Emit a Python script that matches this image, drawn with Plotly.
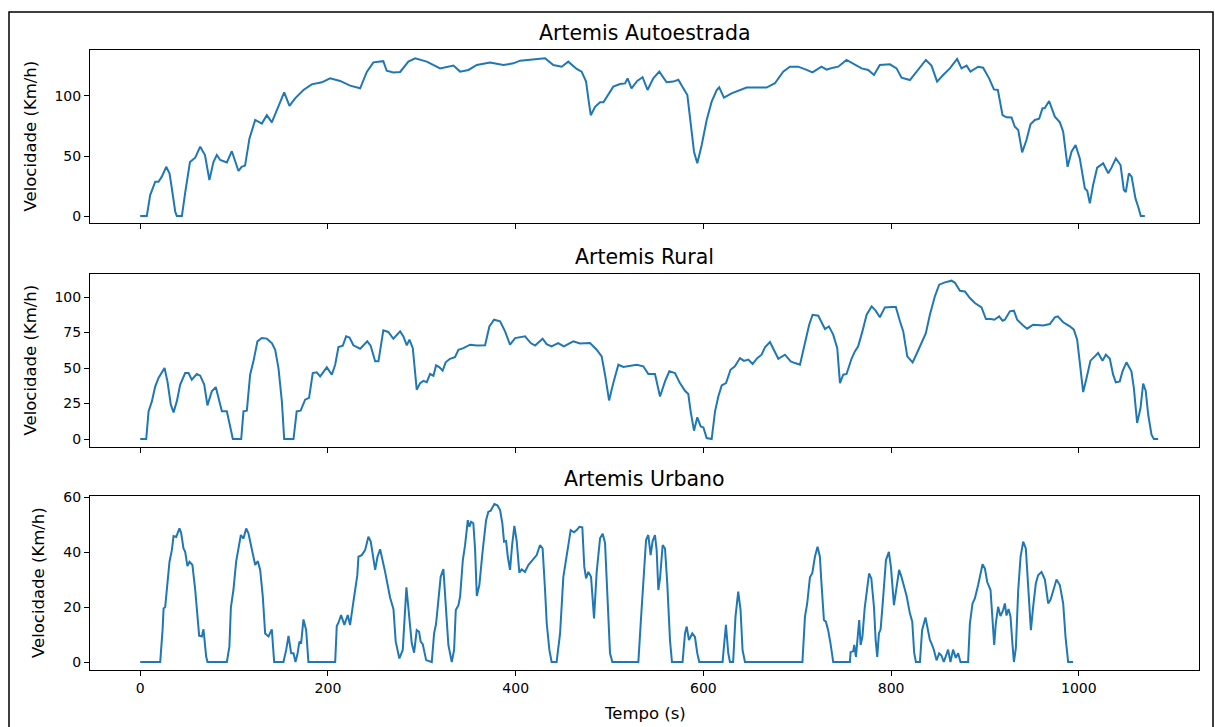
import plotly.graph_objects as go
from plotly.subplots import make_subplots

# ---------------- data ----------------
titles = ["Artemis Autoestrada", "Artemis Rural", "Artemis Urbano"]

tempo_autoestrada = [0, 7, 10.6, 16, 19.5, 23, 27.7, 31.2, 33.7, 37.3, 39, 44.4, 48, 53, 58.6, 63.9, 69, 73.7, 78, 81.6,
    85.2, 92.3, 97.6, 104.7, 108, 111.7, 116.4, 122.5, 129.6, 134.9, 140.2, 147.3, 153.4, 159, 165, 173.9, 182.7,
    193.5, 202.3, 213, 223.6, 234.3, 241.4, 248.4, 259, 262.6, 269.7, 276.9, 285.7, 292.9, 305.3, 319.5, 333.7,
    340.8, 349.7, 358.6, 372.7, 386.9, 397.6, 404.7, 422.4, 431.3, 440.1, 449, 456, 465, 470.3, 475, 477.4, 480,
    484.6, 489.9, 493.5, 498.7, 504, 511.2, 516.5, 519.2, 523.4, 529.5, 535.2, 540.5, 546.6, 553, 560.8, 567.9,
    573.3, 578.6, 582.9, 587.5, 590, 593.5, 598.2, 603.5, 608.8, 614.2, 616.8, 621.9, 630, 646, 667.3, 676.2, 685,
    692.2, 701, 710, 716.2, 725.8, 731.2, 738.3, 743.6, 752.5, 761.4, 768.5, 775.6, 781.7, 788, 798.7, 805.8,
    811.1, 820, 828.8, 837, 843, 849, 855.4, 862.6, 870.3, 875, 880.4, 884.5, 892.7, 898, 904.4, 909.5, 913.7,
    918.7, 922.9, 928.3, 931.8, 935.4, 939.6, 944.2, 948.5, 953.1, 957.7, 961.2, 963.6, 968.3, 974.4, 979.8,
    983.3, 988, 992.2, 996.5, 1001, 1006.4, 1008.9, 1011.7, 1015.2, 1019.5, 1025.9, 1031.3, 1034.8, 1039.4,
    1044.4, 1047.9, 1050, 1053.3, 1056.2, 1060.3, 1063.2, 1066, 1070.3]
velocidade_autoestrada = [0, 0, 17.5, 28.6, 28.6, 32.8, 41, 35.5, 23, 3.6, 0, 0, 20, 45, 48.6, 57.8, 50.8, 30, 45, 50.8,
    46.7, 44.7, 54, 37.5, 41, 42, 64.7, 80, 77, 84, 78, 91, 103, 91.7, 98, 105, 109.7,
    111.4, 114.7, 112.5, 108.6, 106.4, 120, 128, 129, 121, 119.5, 120, 128.6, 131.4, 128.6, 123, 125.3,
    120.3, 121.7, 125.8, 127.8, 125.8, 127.2, 129.4, 130.5, 131.4, 125.8, 124.4, 128.6, 122.5, 120.3, 112, 98, 84,
    91, 94.7, 94.7, 101.4, 107.8, 110, 110.5, 114.7, 106.4, 112.5, 115.6, 105, 114.7, 120.3, 111.4, 112,
    113.5, 106.4, 100.8, 70.3, 53.6, 43.9, 59.2, 80, 95.3, 105, 107.2, 98.6, 102.2, 107, 107, 110.6, 120.3,
    124.4, 124.4, 121.7, 119.7, 124.4, 122, 123.6, 124.4, 130, 125.8, 123, 121.7, 117.5, 125.8, 126.4, 123,
    115.3, 113.3, 121.7, 130, 125.3, 112, 117.5, 123, 130.8, 123, 125.3, 120.3, 124.4, 123.6, 114.7, 105.5, 105,
    84, 82.2, 82, 74.4, 71.7, 53, 63.3, 76.4, 80, 81, 89.7, 89.7, 95.8, 82.8, 78,
    70.3, 41, 53.6, 59.2, 48, 23, 21, 10.6, 25.8, 40.3, 43.9, 35.6, 40.3, 48,
    42.5, 21.7, 20, 35.6, 32.8, 14.7, 7.8, 0, 0]

tempo_rural = [0, 6.4, 8.9, 12.4, 16, 19.5, 25.9, 29, 32.6, 35.5, 39, 42.6, 47.9, 51.5, 54.9, 60.3, 63.9, 68.2, 71.6,
    76.3, 80.5, 83.3, 87, 92.3, 95.8, 98.7, 107.6, 110, 113.6, 117.1, 120.6, 124.9, 129.5, 134.9, 140.2, 143.8,
    147.3, 150.9, 153.4, 163.3, 166.7, 170.9, 175.7, 179.9, 183.8, 188, 191.7, 198.8, 204.1, 207.7, 211.2, 215.8,
    219.4, 223, 227.1, 234.3, 241.9, 245.5, 250.3, 253.8, 259, 264.3, 269.7, 276.9, 280.4, 284, 286.8, 290.4,
    294.6, 298.2, 301.7, 305.3, 308.8, 312.4, 315.2, 318.8, 322.2, 325.4, 330, 335.3, 339, 344.3, 351.4, 358.6,
    367.4, 372, 377, 383.4, 388.7, 394, 399.4, 410, 416, 420.7, 428.7, 433, 438.2, 445.3, 451.3, 461.4, 468.5,
    479.2, 486.3, 491.6, 495.2, 499.5, 504, 509.4, 514.7, 528.9, 536, 541.3, 548.4, 553.8, 559.1, 563.7, 569.7,
    575, 580.4, 583.9, 586.4, 590, 593.5, 597.1, 600, 603.5, 608.8, 612.4, 615.9, 619.5, 624.1, 628.9, 633.5,
    639, 643.2, 647.8, 652.4, 657.3, 662, 665.6, 670.9, 675.2, 679.8, 686.9, 693, 697.6, 702.9, 708.2, 712.7,
    716.3, 722.4, 729.5, 733.7, 738.3, 742.6, 745.5, 749, 752.5, 757.8, 761.4, 764.9, 769.4, 773.9, 779.2, 783.5,
    788, 793.3, 800.4, 805, 809.4, 812.9, 817.2, 822.9, 827.1, 832.4, 837, 841.3, 846.6, 851.2, 857.3, 864.4,
    868, 873.3, 878.6, 883.9, 889.2, 896.3, 901, 906.4, 909.9, 915.1, 918.7, 921.2, 926.5, 930.8, 934.3, 940.6,
    944.9, 951.3, 956.7, 962, 969.1, 974.4, 977.6, 983.3, 990.4, 994.7, 998.2, 1001, 1004.6, 1008.2, 1012.4,
    1017, 1020.5, 1025.2, 1028.8, 1033, 1036.5, 1039.4, 1043.6, 1046.5, 1050.7, 1056, 1058.6, 1062.1, 1065.7,
    1068.5, 1071.2, 1073.9, 1077.4, 1079.9, 1084.5]
velocidade_rural = [0, 0, 19.5, 26.5, 37.1, 43, 50, 40.6, 24.2, 18.8, 26.5, 38.3, 46.5, 46.5, 41.8, 45.8, 44.6, 38.3, 23.7,
    33.6, 36.6, 30, 19.5, 19.5, 10, 0, 0, 19.5, 20, 45.3, 54.7, 68.8, 71.1, 70.7, 67.6, 62.9,
    50, 26.5, 0, 0, 19.5, 20, 27.7, 29, 46.5, 47, 44.1, 50.5, 45.3, 52.3, 64.8, 65.8,
    72.3, 71.5, 66, 63.6, 68.8, 65.7, 54.7, 54.7, 76.5, 75.4, 70.6, 75.8, 72.3, 66, 70, 64,
    34.7, 39.4, 41, 40, 45.8, 44.6, 51.9, 50.5, 48.1, 54, 56.5, 57.7, 62.9, 64, 66.4, 65.8,
    66, 79.3, 84, 82.9, 75.8, 66.4, 71.1, 72.3, 67.6, 65.8, 70.6, 66.8, 65.3, 67.6, 65.3, 68.8, 67.3,
    67.6, 62.9, 58.2, 45.3, 27.2, 39.4, 52.3, 50.7, 52.3, 51.2, 45.8, 45.8, 30, 40.6, 47.7, 46.5,
    39.4, 34, 31.7, 19.5, 5.9, 15.3, 8.9, 8.2, 0.7, 0, 19.5, 30, 37.8, 39.4, 48.8, 51.2,
    57, 55, 55.9, 52.8, 57, 59.4, 64.6, 68.3, 62.9, 56.5, 59.4, 54.7, 53.5, 52.3, 67.6, 80.5,
    87.5, 86.8, 77.5, 79.3, 73.5, 64, 39.4, 45.3, 45.8, 56.5, 61.7, 65.3, 75.8, 87.5, 93.4, 90.4,
    85.7, 92.7, 93, 93, 82.9, 75.8, 58.2, 54, 59.9, 67.6, 74.6, 87.5, 100.5, 108.7, 110.3, 111.5,
    110, 104.4, 103.9, 99.3, 95.8, 92.7, 84.5, 84.5, 84, 86.4, 83.3, 84, 89.9, 90.4, 84, 80,
    77.7, 80.5, 80, 80, 81, 85.7, 86.4, 82.2, 79.4, 77, 70, 52.3, 33.1, 43, 55.2,
    58.2, 60.6, 55.2, 59.4, 56.5, 45.3, 39.9, 40.6, 47.7, 54, 47.7, 35.9, 11.3, 21.8,
    39, 34, 17.1, 3, 0, 0]

tempo_urbano = [0, 21.3, 23.8, 24.9, 26.6, 28.4, 31.2, 33.7, 35.5, 38.3, 39.8, 41.8, 43.6, 46.1, 47.9, 50.3, 52.5,
    55.6, 58.6, 61, 62.8, 65.6, 67.4, 70.3, 71.7, 92.3, 95, 96.6, 99.3, 102.2, 104.7, 107.2, 110, 112.9, 115.3,
    118.8, 122.5, 125.3, 127.8, 130.6, 133.1, 136.7, 140.2, 142.7, 152.6, 155.5, 158, 160.8, 163.3, 165.4, 167.5,
    169.6, 171.4, 173.9, 176.8, 179.2, 207.7, 209.4, 211.2, 214, 217.5, 221.1, 223.6, 226.1, 228.9, 231.3, 232.5,
    236, 239.6, 243.1, 245.6, 250.3, 252.8, 255.6, 260.9, 266.2, 269.8, 272.2, 276.1, 279.7, 283.6, 286.8, 289.3,
    291.8, 294.6, 297.1, 298.8, 301, 304.6, 310.6, 313.1, 315.2, 316.9, 320.1, 323, 325.4, 328.3, 331.9, 334.4,
    336.2, 339, 340.8, 343.7, 346.1, 349, 350.7, 352.5, 354.9, 356.8, 358.6, 361.3, 364.9, 368.5, 370.9, 373.3,
    377.3, 380.5, 383.4, 385.8, 387.6, 389.8, 391.6, 394, 396.2, 398.6, 401.1, 403.9, 406.4, 409.9, 413.5, 418.1,
    422.4, 425.9, 428.7, 431.3, 433.1, 435.9, 438.3, 443.6, 447.3, 450.8, 454.3, 458.6, 462.2, 465, 467.9, 471,
    473.1, 475, 477.4, 480.3, 483.5, 486.3, 489.9, 492.7, 495.2, 498, 500.5, 503, 530.7, 533.2, 536, 538.9,
    541.3, 543.8, 545.9, 548.4, 550.2, 552, 553.8, 556.6, 559.1, 561.5, 564.4, 566.5, 577.8, 580.4, 582.2, 584.6,
    588.2, 591, 593.5, 595.6, 620.4, 622.2, 624, 626.5, 628.3, 631.7, 634.2, 637.1, 639.6, 641.7, 644.3, 705.5,
    708.2, 710.6, 713.5, 716, 718.8, 721.6, 724.1, 725.8, 728.4, 730.5, 732.9, 735.4, 738.3, 756.1, 756.8, 759.6,
    760.7, 762.5, 764.3, 766, 767.5, 769.4, 771.8, 774.3, 776.5, 778.9, 781.7, 783.5, 785.2, 787, 788.8, 791.3,
    794.5, 797.6, 799.8, 803, 805.8, 808.5, 811, 813.5, 816.5, 820, 822.5, 824.6, 826.4, 830.7, 833, 836.6, 839.5,
    841.3, 843.1, 845.6, 848.4, 851.2, 853.6, 856.1, 860.7, 863.2, 866, 868.9, 871.4, 873.9, 882, 883.9, 886.7,
    889.2, 892.7, 897.4, 899.9, 902.4, 905.9, 908, 909.8, 911.5, 914, 916.5, 919.3, 921.2, 922.9, 925.1, 927.2,
    929.2, 930.8, 932.9, 935.4, 937.9, 940.7, 943.5, 946, 948.9, 951.3, 954.2, 956.6, 960.2, 963.8, 967.3, 969.8,
    972.7, 976.2, 979.8, 983.3, 985.8, 988.6, 993.9]
velocidade_urbano = [0, 0, 11.6, 19.5, 20, 27.4, 36.5, 40.7, 45.8, 45.5, 47, 48.6, 47, 41.3, 40.1, 34.9, 36.5,
    35.3, 26.2, 17.1, 9.6, 9.3, 11.9, 1.9, 0, 0, 5.6, 19.9, 26.2, 36.5, 41.3, 46.2, 44.9, 48.6, 46.8,
    41, 35.3, 36.7, 33.5, 23.8, 10.4, 9.3, 11.9, 0, 0, 4.4, 9.5, 3.2, 3.2, 0, 2.8,
    7.4, 6.7, 15.5, 11.6, 0, 0, 13.1, 14.3, 17.1, 13.5, 17.1, 13.5, 19.5, 26.8, 31.6, 38.3,
    38.9, 40.7, 45.6, 43.8, 33.5, 38.3, 41, 32.8, 23.5, 19.2, 7.4, 1.3, 4.4, 27.2, 16.5, 6.8,
    3.4, 11.6, 11, 7.4, 6.5, 0.7, 0, 10.4, 13.9, 20.7, 31, 33.8, 22.5, 6.2, 0, 4.4,
    18.9, 20.7, 23.8, 37.1, 42.5, 51.6, 49.2, 51, 50.5, 40.7, 24, 28, 40.7, 51.6, 54.7, 55,
    57.5, 57, 55.3, 50.4, 43.8, 44, 38.3, 33.5, 42.5, 49.5, 44, 32.5, 33.7, 32.8, 35.3, 37.3,
    38.9, 42.5, 41.3, 26.2, 14, 4.4, 0, 0, 10.4, 31, 38.9, 48, 47.2, 48, 49.2, 49,
    34.7, 30.4, 32.8, 31, 15.9, 32.8, 45, 46.7, 43.3, 21.3, 3.2, 0, 0, 14, 29.8, 44.4,
    46.2, 38.9, 44, 46.2, 40.7, 26.2, 30.4, 42.5, 41.3, 28.6, 8, 0, 0, 10.4, 12.9, 8,
    10.4, 9.1, 3.2, 0, 0, 5.6, 13.5, 3.2, 0, 0, 16.5, 25.6, 18.9, 4.4, 0, 0,
    16.5, 21.3, 30.8, 32.3, 38.3, 41.9, 38.3, 28.6, 15.3, 14.7, 11.6, 6.8, 0, 0, 3.6, 3.9,
    6.2, 1.9, 10.8, 15.3, 6.2, 9.2, 19.5, 27.4, 32.2, 30.4, 20.1, 8, 1.9, 10.4, 11.9, 22.5,
    37.1, 40.1, 34.6, 20.7, 26.8, 33.5, 31, 27.4, 24, 17.7, 14.7, 3.2, 0, 0, 11.6, 16.2, 11.6,
    8, 6.7, 4.4, 0.6, 3.2, 2.4, 0, 4.5, 0, 4.5, 1.5, 3.2, 0, 0, 14, 21.3,
    23.1, 28, 35.6, 34, 29.1, 26.2, 16.5, 6.2, 14, 20.1, 16.7, 18.9, 21.3, 16.9, 19.3, 16.5,
    6.8, 0, 5.1, 26.2, 38.3, 43.8, 41.3, 28.6, 11.6, 20.1, 28.7, 31.6, 32.8, 30, 21.3, 22.6,
    26.2, 30, 27.9, 21.3, 9.1, 0, 0]

x_ticks = [0, 200, 400, 600, 800, 1000]
y_ticks = [[0, 50, 100], [0, 25, 50, 75, 100], [0, 20, 40, 60]]
y_label = "Velocidade (Km/h)"
x_label = "Tempo (s)"

# ---------------- figure ----------------
W, H = 1215, 727
ML, MR, MT, MB = 90, 16, 50, 57
PW, PH = W - ML - MR, H - MT - MB

def py2paper(py):
    return (H - MB - py) / PH

def px2paper(px):
    return (px - ML) / PW

frames = [(50, 223), (274, 447), (496, 670)]
y_ranges = [[-5.8, 138.3], [-5.6, 116.2], [-2.9, 60.4]]
x_range = [-53.5, 1128]

fig = make_subplots(rows=3, cols=1, shared_xaxes=True)

series = [(tempo_autoestrada, velocidade_autoestrada),
          (tempo_rural, velocidade_rural),
          (tempo_urbano, velocidade_urbano)]

font = "DejaVu Sans"
FTICK = 14
FS = 16.5
FT = 20.5
for i, (t, v) in enumerate(series, start=1):
    fig.add_trace(go.Scatter(x=t, y=v, mode="lines",
                             line=dict(color="#1f77b4", width=2),
                             showlegend=False, hoverinfo="skip"), row=i, col=1)

axis_style = dict(showline=True, linecolor="black", linewidth=1, mirror=True,
                  ticks="outside", ticklen=5, tickwidth=1, tickcolor="black",
                  showgrid=False, zeroline=False,
                  tickfont=dict(family=font, size=FTICK, color="black"))

annotations = []
for i in range(3):
    top, bot = frames[i]
    ydom = [py2paper(bot), py2paper(top)]
    xa = "xaxis" if i == 0 else f"xaxis{i+1}"
    ya = "yaxis" if i == 0 else f"yaxis{i+1}"
    fig.layout[xa].update(domain=[0, 1], range=x_range, tickvals=x_ticks,
                          showticklabels=(i == 2), **axis_style)
    fig.layout[ya].update(domain=ydom, range=y_ranges[i], tickvals=y_ticks[i], **axis_style)
    annotations.append(dict(text=titles[i], xref="paper", yref="paper", x=0.5, y=ydom[1],
                            xanchor="center", yanchor="bottom", yshift=3, showarrow=False,
                            font=dict(family=font, size=FT, color="black")))
    lab_px = 38 if i == 2 else 30
    annotations.append(dict(text=y_label, xref="paper", yref="paper", x=px2paper(lab_px),
                            y=(ydom[0] + ydom[1]) / 2, xanchor="center", yanchor="middle",
                            textangle=-90, showarrow=False,
                            font=dict(family=font, size=FS, color="black")))

annotations.append(dict(text=x_label, xref="paper", yref="paper", x=0.5, y=py2paper(713),
                        xanchor="center", yanchor="middle", showarrow=False,
                        font=dict(family=font, size=FS, color="black")))

fig.update_layout(
    width=W, height=H,
    margin=dict(l=ML, r=MR, t=MT, b=MB),
    paper_bgcolor="white", plot_bgcolor="white",
    annotations=annotations,
    shapes=[dict(type="rect", xref="paper", yref="paper",
                 x0=px2paper(9), x1=px2paper(1213), y0=py2paper(760), y1=py2paper(12),
                 line=dict(color="black", width=1.5), fillcolor="rgba(0,0,0,0)")],
    font=dict(family=font, color="black"),
)

fig.write_html("out.html")
